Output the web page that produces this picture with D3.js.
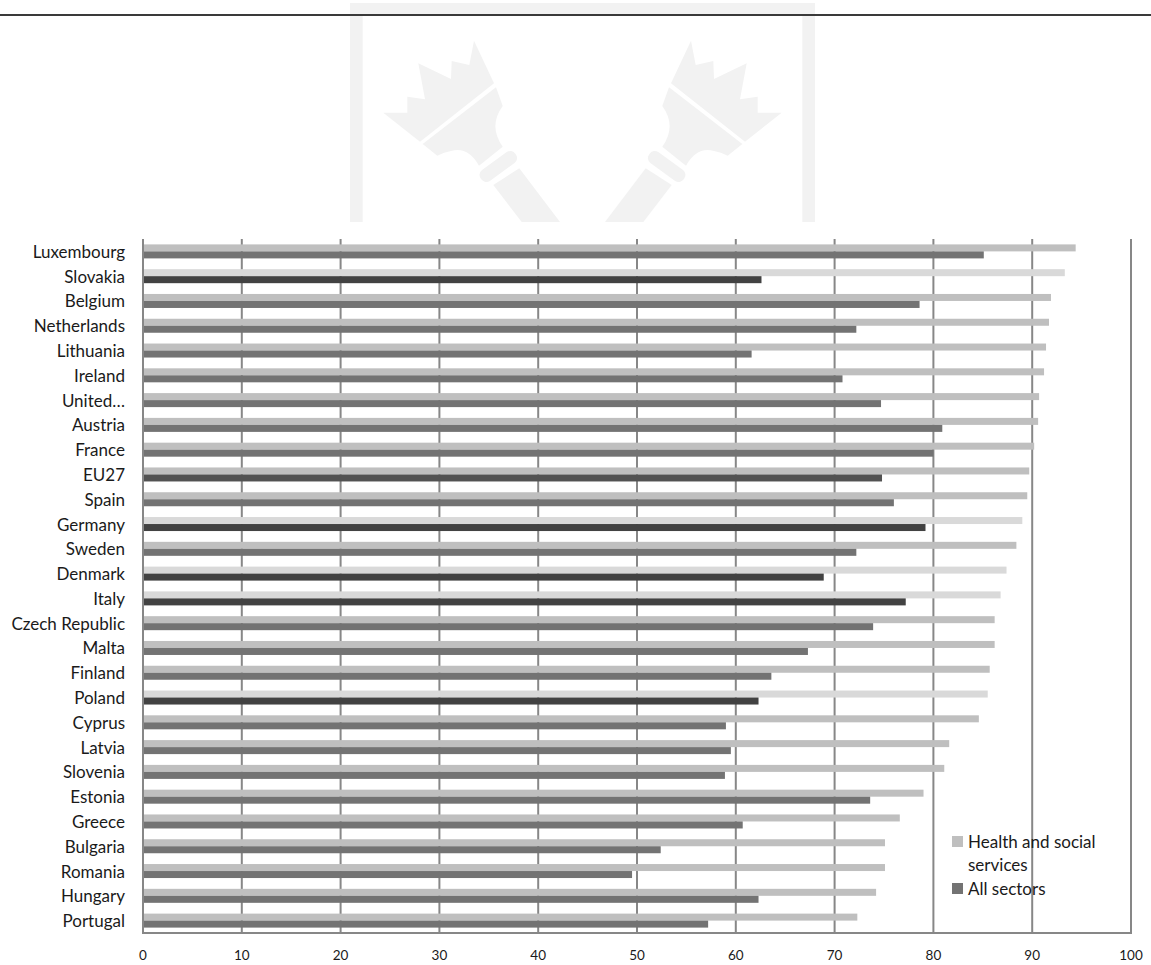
<!DOCTYPE html>
<html>
<head>
<meta charset="utf-8">
<script src="https://cdn.jsdelivr.net/npm/d3@7"></script>
<style>
  body { margin: 0; background: #fff; }
  svg { display: block; }
  text { font-family: "Lato", "Open Sans", sans-serif; fill: #1a1a1a; }
</style>
</head>
<body>
<svg id="chart" width="1151" height="965"></svg>
<script>
// Countries, top to bottom
const countries = [
  "Luxembourg", "Slovakia", "Belgium", "Netherlands", "Lithuania", "Ireland",
  "United Kingdom", "Austria", "France", "EU27", "Spain", "Germany", "Sweden",
  "Denmark", "Italy", "Czech Republic", "Malta", "Finland", "Poland", "Cyprus",
  "Latvia", "Slovenia", "Estonia", "Greece", "Bulgaria", "Romania", "Hungary",
  "Portugal"
];
// Label shown on the axis (long names are cut short)
const countryLabels = [
  "Luxembourg", "Slovakia", "Belgium", "Netherlands", "Lithuania", "Ireland",
  "United\u2026", "Austria", "France", "EU27", "Spain", "Germany", "Sweden",
  "Denmark", "Italy", "Czech Republic", "Malta", "Finland", "Poland", "Cyprus",
  "Latvia", "Slovenia", "Estonia", "Greece", "Bulgaria", "Romania", "Hungary",
  "Portugal"
];
const healthValues = [
  94.4, 93.3, 91.9, 91.7, 91.4, 91.2, 90.7, 90.6, 90.2, 89.7, 89.5, 89.0, 88.4,
  87.4, 86.8, 86.2, 86.2, 85.7, 85.5, 84.6, 81.6, 81.1, 79.0, 76.6, 75.1, 75.1,
  74.2, 72.3
];
const allSectorValues = [
  85.1, 62.6, 78.6, 72.2, 61.6, 70.8, 74.7, 80.9, 80.0, 74.8, 76.0, 79.2, 72.2,
  68.9, 77.2, 73.9, 67.3, 63.6, 62.3, 59.0, 59.5, 58.9, 73.6, 60.7, 52.4, 49.5,
  62.3, 57.2
];
// Rows drawn in the alternate (contrast) shading
const contrastRows = ["Slovakia", "Germany", "Denmark", "Italy", "Poland"];
const averageRow = "EU27";
const xTicks = [0, 10, 20, 30, 40, 50, 60, 70, 80, 90, 100];
const seriesNames = ["Health and social services", "All sectors"];

const svg = d3.select("#chart");

// ---- faint torch emblem behind the chart ----
const wm = svg.append("g").attr("fill", "#f2f2f2");
wm.append("rect").attr("x", 350).attr("y", 3).attr("width", 465).attr("height", 13);
wm.append("rect").attr("x", 350).attr("y", 3).attr("width", 12.7).attr("height", 219);
wm.append("rect").attr("x", 802.3).attr("y", 3).attr("width", 12.7).attr("height", 219);

function torch(g) {
  // flame
  g.append("path").attr("d",
    "M383.3,112.7 L407.3,112.7 L407.3,96.7 L425,99.3 L418.3,63.3 L451,79 L451.7,61 " +
    "L469.3,65 L474,40.7 L494,83.3 L420,141.7 Z");
  // cup
  g.append("path").attr("d",
    "M422.7,144 L496,87.3 L502.7,106 Q488,126 502.7,146.7 L479,165.7 " +
    "Q468,146 451,151 Q444,152 437.3,155.7 Z");
  // collar
  g.append("rect").attr("x", -21.25).attr("y", -6.7).attr("width", 42.5).attr("height", 13.4)
    .attr("rx", 6).attr("transform", "translate(498.3,166.5) rotate(-36)");
  // handle
  g.append("path").attr("d", "M493.3,185 L519.3,168.3 L560,222 L521.7,222 Z");
}
torch(wm.append("g"));
torch(wm.append("g").attr("transform", "translate(1165,0) scale(-1,1)"));

// header rule
svg.append("line").attr("x1", 0).attr("x2", 1151).attr("y1", 15).attr("y2", 15)
  .attr("stroke", "#3a3a3a").attr("stroke-width", 2);

// ---- chart ----
const x = d3.scaleLinear().domain([0, 100]).range([143, 1131]);
const y = d3.scaleBand().domain(countries).range([239, 933]).padding(0);
const barH = 7;
const gridColor = "#878787";

// vertical gridlines
svg.append("g").selectAll("line").data(xTicks.slice(1)).join("line")
  .attr("x1", d => x(d)).attr("x2", d => x(d))
  .attr("y1", 239).attr("y2", 933)
  .attr("stroke", gridColor).attr("stroke-width", 2);

function healthColor(c) { return contrastRows.includes(c) ? "#d9d9d9" : "#bfbfbf"; }
function allColor(c) {
  if (contrastRows.includes(c)) return "#424242";
  if (c === averageRow) return "#525252";
  return "#737373";
}

const rows = countries.map((c, i) => ({ c, h: healthValues[i], a: allSectorValues[i] }));

svg.append("g").selectAll("rect").data(rows).join("rect")
  .attr("x", x(0)).attr("y", d => y(d.c) + y.bandwidth() / 2 - barH)
  .attr("width", d => x(d.h) - x(0)).attr("height", barH)
  .attr("fill", d => healthColor(d.c));

svg.append("g").selectAll("rect").data(rows).join("rect")
  .attr("x", x(0)).attr("y", d => y(d.c) + y.bandwidth() / 2)
  .attr("width", d => x(d.a) - x(0)).attr("height", barH)
  .attr("fill", d => allColor(d.c));

// axis lines
svg.append("line").attr("x1", x(0)).attr("x2", x(0)).attr("y1", 239).attr("y2", 934)
  .attr("stroke", gridColor).attr("stroke-width", 2);
svg.append("line").attr("x1", x(0) - 1).attr("x2", x(100) + 1).attr("y1", 933).attr("y2", 933)
  .attr("stroke", gridColor).attr("stroke-width", 2);

// category labels
svg.append("g").selectAll("text").data(countries).join("text")
  .attr("x", 125).attr("y", d => y(d) + y.bandwidth() / 2)
  .attr("text-anchor", "end").attr("dominant-baseline", "central")
  .attr("font-size", 17)
  .text((d, i) => countryLabels[i]);

// value axis labels
svg.append("g").selectAll("text").data(xTicks).join("text")
  .attr("x", d => x(d)).attr("y", 955)
  .attr("text-anchor", "middle").attr("dominant-baseline", "central")
  .attr("font-size", 13.5)
  .text(d => d);

// legend
const legend = svg.append("g");
legend.append("rect").attr("x", 952).attr("y", 836).attr("width", 11).attr("height", 11).attr("fill", "#bfbfbf");
legend.append("rect").attr("x", 952).attr("y", 883).attr("width", 11).attr("height", 11).attr("fill", "#737373");
legend.append("text").attr("x", 968).attr("y", 841.5).attr("dominant-baseline", "central")
  .attr("font-size", 17).text("Health and social");
legend.append("text").attr("x", 968).attr("y", 864.5).attr("dominant-baseline", "central")
  .attr("font-size", 17).text("services");
legend.append("text").attr("x", 968).attr("y", 888.5).attr("dominant-baseline", "central")
  .attr("font-size", 17).text(seriesNames[1]);
</script>
</body>
</html>
